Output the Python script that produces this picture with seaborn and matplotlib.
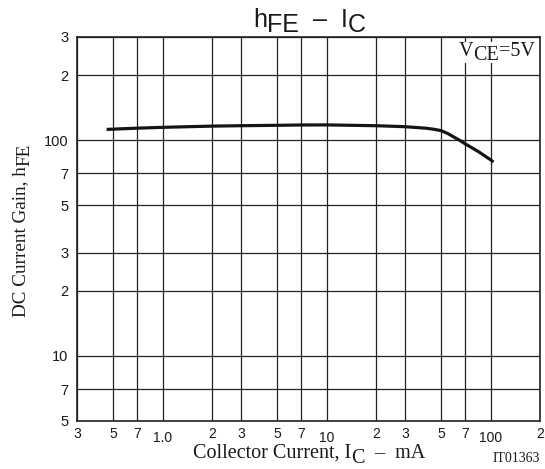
import matplotlib
matplotlib.use("Agg")
import matplotlib.pyplot as plt
import seaborn as sns
import pandas as pd
from matplotlib.ticker import NullLocator
from matplotlib.transforms import ScaledTranslation

# hFE vs IC characteristic (VCE = 5 V)
ic_ma = [0.455, 0.7, 1.0, 2.0, 3.0, 5.0, 7.0, 10, 20, 30, 40, 45, 50, 55, 60,
         65, 70, 77, 85, 93, 100, 104]
hfe = [112, 113.5, 114.5, 116, 116.5, 117, 117.4, 117.5, 116.5, 115.3, 113.5,
       112.2, 110.5, 107, 103, 99.5, 96, 92, 88, 84, 81, 79]

x_ticks = [0.3, 0.5, 0.7, 1, 2, 3, 5, 7, 10, 20, 30, 50, 70, 100, 200]
x_tick_labels = ["3", "5", "7", "1.0", "2", "3", "5", "7", "10", "2", "3", "5", "7", "100", "2"]
y_ticks = [5, 7, 10, 20, 30, 50, 70, 100, 200, 300]
y_tick_labels = ["5", "7", "10", "2", "3", "5", "7", "100", "2", "3"]

sns.set_theme(style="white")
plt.rcParams["font.family"] = ["Liberation Sans", "DejaVu Sans"]

W, H = 545, 469
fig = plt.figure(figsize=(W / 100, H / 100), dpi=100)
ax = fig.add_axes([77 / W, 1 - 421 / H, (540 - 77) / W, (421 - 37) / H])

df = pd.DataFrame({"ic": ic_ma, "hfe": hfe})
sns.lineplot(data=df, x="ic", y="hfe", ax=ax, color="#151515", lw=2.3,
             solid_capstyle="butt", solid_joinstyle="round", zorder=3)

ax.set_xscale("log")
ax.set_yscale("log")
ax.set_xlim(0.3, 200)
ax.set_ylim(5, 300)
ax.set_xticks(x_ticks, x_tick_labels)
ax.set_yticks(y_ticks, y_tick_labels)
ax.xaxis.set_minor_locator(NullLocator())
ax.yaxis.set_minor_locator(NullLocator())
ax.tick_params(axis="both", length=0, labelsize=10, colors="#1a1a1a")
ax.tick_params(axis="x", pad=4)
ax.tick_params(axis="y", pad=6, labelsize=10.5)
ax.grid(True, which="major", color="#222222", lw=0.9)
for s in ax.spines.values():
    s.set_color("#222222")
    s.set_linewidth(1.2)
ax.set_xlabel("")
ax.set_ylabel("")

# decade labels sit a little lower than the others
for lab in ax.get_xticklabels():
    if lab.get_text() in ("1.0", "10", "100"):
        lab.set_transform(lab.get_transform() + ScaledTranslation(0, -3 / 72, fig.dpi_scale_trans))


def fx(px):
    return px / W


def fy(py):
    return 1 - py / H


def text_run(x, y, parts, rotation=0, **kw):
    """Write consecutive pieces of text; each piece has its own baseline drop (pt)."""
    prev = None
    for s, drop, size in parts:
        common = dict(textcoords="offset points", ha="left", va="baseline",
                      fontsize=size, annotation_clip=False, zorder=5, **kw)
        if rotation == 0:
            offset = (0, -drop)
            where = (x, y) if prev is None else (1, y)
            coords = "figure fraction" if prev is None else (prev, "figure fraction")
            prev = ax.annotate(s, xy=where, xycoords=coords, xytext=offset, **common)
        else:
            offset = (drop, 0)
            where = (x, y) if prev is None else (x, 1)
            coords = "figure fraction" if prev is None else ("figure fraction", prev)
            prev = ax.annotate(s, xy=where, xycoords=coords, xytext=offset,
                               rotation=90, rotation_mode="anchor", **common)
    return prev


sans = dict(family=["Liberation Sans", "DejaVu Sans"], color="#1a1a1a")
serif = dict(family=["Liberation Serif", "DejaVu Serif"], color="#1a1a1a")

# title
text_run(fx(253), fy(27), [("h", 0, 18), ("FE", 3.6, 18), ("  \u2013  I", 0, 18), ("C", 3.6, 18)], **sans)

# axis labels
text_run(fx(193), fy(458), [("Collector Current, I", 0, 14.5), ("C", 3.5, 14.5), ("  \u2013  mA", 0, 14.5)], **serif)
text_run(fx(25), fy(317), [("DC Current Gain, h", 0, 13.8), ("FE", 3.0, 13.8)], rotation=90, **serif)

# operating condition, on a white patch that hides the grid behind it
ax.add_patch(plt.Rectangle((fx(456), fy(63)), (538 - 456) / W, (63 - 42) / H,
                           transform=fig.transFigure, facecolor="white",
                           edgecolor="none", zorder=4))
text_run(fx(459), fy(56), [("V", 0, 14.5), ("CE", 3.2, 14.5), ("=5V", 0, 14.5)], **serif)

# figure id
ax.annotate("IT01363", xy=(fx(540), fy(462)), xycoords="figure fraction",
            ha="right", va="baseline", fontsize=10, annotation_clip=False, **serif)

fig.savefig("out.png", dpi=100)
